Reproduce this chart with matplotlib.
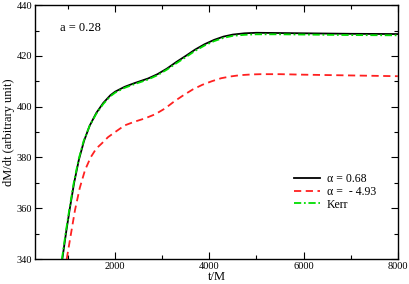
import matplotlib
matplotlib.use('Agg')
import matplotlib.pyplot as plt
from matplotlib.ticker import MultipleLocator

plt.rcParams['font.family'] = ['Liberation Serif', 'DejaVu Serif']

# alpha = 0.68
t_a = [880, 960, 1040, 1130, 1230, 1340, 1460, 1600, 1750, 1900, 2000, 2200, 2400,
       2700, 2900, 3100, 3300, 3500, 3700, 3900, 4100, 4300, 4500, 4750, 5000, 5500,
       6000, 7000, 8000]
dm_a = [340, 350.5, 360, 370, 379, 386.5, 392.5, 397.5, 401.5, 404.5, 405.9, 407.8, 409.2,
        411.1, 412.8, 415, 417.6, 420, 422.5, 424.6, 426.3, 427.6, 428.4, 428.9, 429.1, 429.0,
        428.9, 428.7, 428.6]

# alpha = -4.93
t_b = [973, 1050, 1149, 1250, 1361, 1480, 1600, 1716, 1850, 2000, 2200, 2400, 2635,
       2850, 3060, 3250, 3450, 3650, 3850, 4050, 4250, 4450, 4650, 4900, 5100, 5500,
       6000, 7000, 8000]
dm_b = [340, 348.5, 359.3, 368, 375, 380, 383.5, 385.5, 388, 390, 392.6, 394, 395.4,
        397, 399.3, 402, 404.5, 406.8, 408.6, 410, 411.2, 411.9, 412.4, 412.7, 412.8, 412.8,
        412.6, 412.3, 412.0]

# Kerr
t_k = [872, 952, 1032, 1122, 1222, 1332, 1455, 1600, 1750, 1900, 2000, 2200, 2400,
       2700, 2900, 3100, 3300, 3500, 3700, 3900, 4100, 4300, 4500, 4750, 5000, 5500,
       6000, 7000, 8000]
dm_k = [340, 350.5, 360, 370, 379, 386.5, 392.3, 397.2, 401.1, 404.1, 405.5, 407.4, 408.8,
        410.7, 412.4, 414.6, 417.1, 419.5, 422, 424.1, 425.8, 427.1, 427.9, 428.3, 428.5, 428.5,
        428.4, 428.2, 428.1]

fig = plt.figure(figsize=(4.09, 2.84), dpi=100)
ax = fig.add_axes([0.0856, 0.088, 0.887, 0.894])

ax.plot(t_a, dm_a, color='black', lw=1.3, label='α = 0.68')
ax.plot(t_b, dm_b, color='#ff2020', lw=1.3, dashes=(4, 2.5), label='α =  - 4.93')
ax.plot(t_k, dm_k, color='#00dd00', lw=1.3, dashes=(4, 1.5, 1, 1.5), label='Kerr')

ax.set_xlim(300, 8000)
ax.set_ylim(340, 440)
ax.xaxis.set_major_locator(MultipleLocator(2000))
ax.xaxis.set_minor_locator(MultipleLocator(1000))
ax.yaxis.set_major_locator(MultipleLocator(20))
ax.yaxis.set_minor_locator(MultipleLocator(10))
ax.tick_params(which='both', direction='in', top=True, right=True, labelsize=7.5, width=0.8)
ax.tick_params(which='major', length=5, pad=2)
ax.tick_params(which='minor', length=3)
for s in ax.spines.values():
    s.set_linewidth(1.0)

ax.set_xlabel('t/M', fontsize=9, labelpad=0)
ax.set_ylabel('dM/dt (arbitrary unit)', fontsize=9, labelpad=1)
ax.text(0.07, 0.9, 'a = 0.28', transform=ax.transAxes, fontsize=9)

ax.legend(loc='upper left', bbox_to_anchor=(0.69, 0.37), frameon=False, fontsize=8.5,
          handlelength=2.2, handletextpad=0.6, labelspacing=0.05, borderpad=0.2)

fig.savefig('out.png', dpi=100)
